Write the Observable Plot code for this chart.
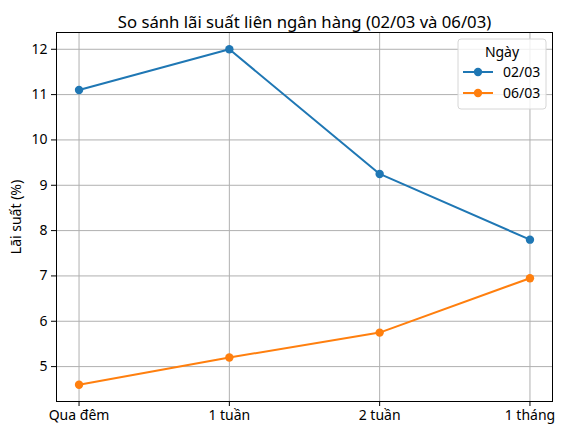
<!DOCTYPE html>
<html>
<head>
<meta charset="utf-8">
<script src="https://cdn.jsdelivr.net/npm/d3@7"></script>
<script src="https://cdn.jsdelivr.net/npm/@observablehq/plot@0.6"></script>
<style>
  html, body { margin: 0; padding: 0; background: #fff; }
  svg { font-family: "Noto Sans", "DejaVu Sans", sans-serif; }
</style>
</head>
<body>
<div id="chart"></div>
<script>
const categories = ["Qua đêm", "1 tuần", "2 tuần", "1 tháng"];
const seriesNames = ["02/03", "06/03"];
const rate0203 = [11.1, 12.0, 9.25, 7.8];
const rate0603 = [4.6, 5.2, 5.75, 6.95];
const colors = ["#1f77b4", "#ff7f0e"];
const yTicks = [5, 6, 7, 8, 9, 10, 11, 12];
const titleText = "So sánh lãi suất liên ngân hàng (02/03 và 06/03)";
const yLabel = "Lãi suất (%)";
const legendTitle = "Ngày";

const data = [];
[rate0203, rate0603].forEach((arr, s) => {
  arr.forEach((v, i) => data.push({ x: i, y: v, series: seriesNames[s] }));
});

const chart = Plot.plot({
  width: 564,
  height: 436,
  marginLeft: 56,
  marginRight: 12,
  marginTop: 32,
  marginBottom: 35,
  style: { fontFamily: "Noto Sans, DejaVu Sans, sans-serif", color: "black", background: "white" },
  x: { type: "linear", domain: [-0.15, 3.15] },
  y: { domain: [4.23, 12.37] },
  color: { domain: seriesNames, range: colors },
  marks: [
    Plot.gridX(categories.map((_, i) => i), { stroke: "#b0b0b0", strokeOpacity: 1, strokeWidth: 1 }),
    Plot.gridY(yTicks, { stroke: "#b0b0b0", strokeOpacity: 1, strokeWidth: 1 }),
    Plot.axisX(categories.map((_, i) => i), {
      tickFormat: i => categories[i], tickSize: 5, tickPadding: 4, fontSize: 14, label: null
    }),
    Plot.axisY(yTicks, { tickSize: 5, tickPadding: 4, fontSize: 14, label: null }),
    Plot.line(data, { x: "x", y: "y", z: "series", stroke: "series", strokeWidth: 2 }),
    Plot.dot(data, { x: "x", y: "y", fill: "series", r: 4.2 }),
    Plot.frame({ stroke: "black", strokeWidth: 1 }),
    Plot.text([titleText], { frameAnchor: "top", dy: -16, fontSize: 16.7, fill: "black" }),
    Plot.text([yLabel], { frameAnchor: "left", textAnchor: "middle", dx: -40, rotate: -90, fontSize: 14, fill: "black" })
  ]
});

// Legend (matplotlib-style box in upper right)
const svg = d3.select(chart);
const lg = svg.append("g").attr("transform", "translate(458,39)")
  .style("font-size", "14px").style("font-family", "Noto Sans, DejaVu Sans, sans-serif");
lg.append("rect").attr("x", 0).attr("y", 0).attr("width", 88).attr("height", 70)
  .attr("rx", 3).attr("fill", "white").attr("fill-opacity", 0.8)
  .attr("stroke", "#d6d6d6").attr("stroke-width", 1);
lg.append("text").attr("x", 44).attr("y", 13).attr("dy", "0.35em")
  .style("text-anchor", "middle").style("font-size", "14px")
  .attr("fill", "black").text(legendTitle);
seriesNames.forEach((name, k) => {
  const yy = 33 + k * 21;
  lg.append("line").attr("x1", 5).attr("x2", 35).attr("y1", yy).attr("y2", yy)
    .attr("stroke", colors[k]).attr("stroke-width", 2);
  lg.append("circle").attr("cx", 20).attr("cy", yy).attr("r", 4.2).attr("fill", colors[k]);
  lg.append("text").attr("x", 45).attr("y", yy).attr("dy", "0.35em")
    .style("text-anchor", "start").style("font-size", "14px")
    .attr("fill", "black").text(name);
});

document.getElementById("chart").appendChild(chart);
</script>
</body>
</html>
